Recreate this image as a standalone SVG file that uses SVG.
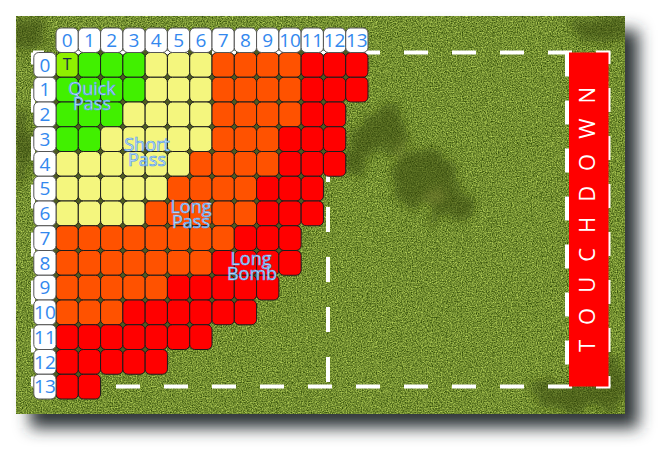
<svg xmlns="http://www.w3.org/2000/svg" xmlns:xlink="http://www.w3.org/1999/xlink" width="670" height="461" viewBox="0 0 670 461">
<style>
.g{fill:#41f000}.lg{fill:#8ff000}.y{fill:#f4f67e}.o{fill:#ff5200}.r{fill:#ff0000}
.n{font-family:"Open Sans","Noto Sans","DejaVu Sans",sans-serif;font-size:19px;fill:#3388ee;text-anchor:middle}
.lbl{font-family:"Open Sans","Noto Sans","DejaVu Sans",sans-serif;font-size:18px;fill:#d4eaff;stroke:#5a9de8;stroke-width:0.7px;text-anchor:middle}
.dash{stroke:#fff;stroke-width:4;fill:none}
.td{font-family:"Open Sans","Noto Sans","DejaVu Sans",sans-serif;font-size:22px;fill:#fff}
</style>
<defs>
<filter id="sh" x="-10%" y="-10%" width="130%" height="130%"><feGaussianBlur stdDeviation="8"/></filter>
<filter id="grass" filterUnits="userSpaceOnUse" x="16.5" y="16" width="608.5" height="398" color-interpolation-filters="sRGB">
<feTurbulence type="fractalNoise" baseFrequency="0.8" numOctaves="3" seed="5"/>
<feColorMatrix type="matrix" values="0.767 0 0 0 0.067 0.767 0 0 0 0.175 0.467 0 0 0 -0.043 0 0 0 0 1"/>
</filter>
<filter id="blot" filterUnits="userSpaceOnUse" x="0" y="0" width="670" height="461">
<feTurbulence type="fractalNoise" baseFrequency="0.045" numOctaves="3" seed="11" result="t"/>
<feDisplacementMap in="SourceGraphic" in2="t" scale="40" xChannelSelector="R" yChannelSelector="G" result="d"/>
<feGaussianBlur in="d" stdDeviation="5"/>
</filter>
<clipPath id="field"><rect x="16.5" y="16" width="608.5" height="398"/></clipPath>
<rect id="c" width="22.29" height="24.75" rx="5" stroke="#1c1c1c" stroke-width="1"/>
<rect id="hc" width="22.29" height="24.5" rx="5" fill="#fff" stroke="#555" stroke-width="1"/>
<rect id="hr" width="22.2" height="24.75" rx="5" fill="#fff" stroke="#555" stroke-width="1"/>
</defs>

<rect x="30" y="30" width="608.5" height="398" fill="#2e3538" filter="url(#sh)"/>
<g id="field-bg">
<rect x="16.5" y="16" width="608.5" height="398" fill="#6d8b2e" filter="url(#grass)"/>
<g clip-path="url(#field)">
<g filter="url(#blot)" fill="#34440e" opacity="0.55">
<ellipse cx="385" cy="130" rx="25" ry="20"/>
<ellipse cx="420" cy="178" rx="34" ry="28"/>
<ellipse cx="452" cy="205" rx="20" ry="17"/>
<ellipse cx="362" cy="150" rx="14" ry="25"/>
<ellipse cx="600" cy="28" rx="32" ry="14"/>
<ellipse cx="572" cy="398" rx="40" ry="14"/>
<ellipse cx="612" cy="382" rx="12" ry="28"/>
<ellipse cx="30" cy="34" rx="18" ry="17"/>
<ellipse cx="22" cy="150" rx="8" ry="40"/>
</g>
<g filter="url(#blot)" fill="#a3a448" opacity="0.35">
<ellipse cx="398" cy="150" rx="9" ry="8"/>
<ellipse cx="432" cy="192" rx="13" ry="11"/>
</g>
</g>
</g>

<g id="lines-under">
<line class="dash" x1="33" y1="52.5" x2="33" y2="386.5" stroke-dasharray="24 24" stroke-dashoffset="12"/>
<line class="dash" x1="328" y1="52.5" x2="328" y2="386.5" stroke-dasharray="25 25" stroke-dashoffset="45.5"/>
</g>

<polygon id="grid-backing" fill="#4e5b22" points="61,46 363,46 363,97 340.71,97 340.71,171.25 318.43,171.25 318.43,220.75 296.14,220.75 296.14,270.25 273.86,270.25 273.86,295 251.57,295 251.57,319.75 207,319.75 207,344.5 162.43,344.5 162.43,369.25 95.57,369.25 95.57,394 38.5,394 38.5,57.5 61,57.5"/>

<g id="connectors">
<line class="dash" x1="33" y1="52.5" x2="610.5" y2="52.5" stroke-dasharray="24 24" stroke-dashoffset="13"/>
<line class="dash" x1="33" y1="386.5" x2="610.5" y2="386.5" stroke-dasharray="24 24" stroke-dashoffset="13"/>
<line class="dash" x1="567" y1="52.5" x2="567" y2="386.5" stroke-dasharray="24 24"/>
<line class="dash" x1="608.5" y1="52.5" x2="608.5" y2="386.5" stroke-dasharray="24 24" stroke-dashoffset="12.5"/>
</g>

<g id="touchdown">
<rect x="569" y="52.5" width="39.5" height="334" fill="#ff0000"/>
<text class="td" transform="translate(595,352) rotate(-90)" x="0" y="0" textLength="265" lengthAdjust="spacing">TOUCHDOWN</text>
</g>

<g id="cells">
<g id="row0" transform="translate(0,52.5)">
<use href="#c" x="56" class="lg"/><use href="#c" x="78.29" class="g"/><use href="#c" x="100.57" class="g"/><use href="#c" x="122.86" class="g"/><use href="#c" x="145.14" class="y"/><use href="#c" x="167.43" class="y"/><use href="#c" x="189.71" class="y"/><use href="#c" x="212" class="o"/><use href="#c" x="234.29" class="o"/><use href="#c" x="256.57" class="o"/><use href="#c" x="278.86" class="o"/><use href="#c" x="301.14" class="r"/><use href="#c" x="323.43" class="r"/><use href="#c" x="345.71" class="r"/>
</g>
<g id="row1" transform="translate(0,77.25)">
<use href="#c" x="56" class="g"/><use href="#c" x="78.29" class="g"/><use href="#c" x="100.57" class="g"/><use href="#c" x="122.86" class="g"/><use href="#c" x="145.14" class="y"/><use href="#c" x="167.43" class="y"/><use href="#c" x="189.71" class="y"/><use href="#c" x="212" class="o"/><use href="#c" x="234.29" class="o"/><use href="#c" x="256.57" class="o"/><use href="#c" x="278.86" class="o"/><use href="#c" x="301.14" class="r"/><use href="#c" x="323.43" class="r"/><use href="#c" x="345.71" class="r"/>
</g>
<g id="row2" transform="translate(0,102)">
<use href="#c" x="56" class="g"/><use href="#c" x="78.29" class="g"/><use href="#c" x="100.57" class="g"/><use href="#c" x="122.86" class="y"/><use href="#c" x="145.14" class="y"/><use href="#c" x="167.43" class="y"/><use href="#c" x="189.71" class="y"/><use href="#c" x="212" class="o"/><use href="#c" x="234.29" class="o"/><use href="#c" x="256.57" class="o"/><use href="#c" x="278.86" class="o"/><use href="#c" x="301.14" class="r"/><use href="#c" x="323.43" class="r"/>
</g>
<g id="row3" transform="translate(0,126.75)">
<use href="#c" x="56" class="g"/><use href="#c" x="78.29" class="g"/><use href="#c" x="100.57" class="y"/><use href="#c" x="122.86" class="y"/><use href="#c" x="145.14" class="y"/><use href="#c" x="167.43" class="y"/><use href="#c" x="189.71" class="y"/><use href="#c" x="212" class="o"/><use href="#c" x="234.29" class="o"/><use href="#c" x="256.57" class="o"/><use href="#c" x="278.86" class="r"/><use href="#c" x="301.14" class="r"/><use href="#c" x="323.43" class="r"/>
</g>
<g id="row4" transform="translate(0,151.5)">
<use href="#c" x="56" class="y"/><use href="#c" x="78.29" class="y"/><use href="#c" x="100.57" class="y"/><use href="#c" x="122.86" class="y"/><use href="#c" x="145.14" class="y"/><use href="#c" x="167.43" class="y"/><use href="#c" x="189.71" class="o"/><use href="#c" x="212" class="o"/><use href="#c" x="234.29" class="o"/><use href="#c" x="256.57" class="o"/><use href="#c" x="278.86" class="r"/><use href="#c" x="301.14" class="r"/><use href="#c" x="323.43" class="r"/>
</g>
<g id="row5" transform="translate(0,176.25)">
<use href="#c" x="56" class="y"/><use href="#c" x="78.29" class="y"/><use href="#c" x="100.57" class="y"/><use href="#c" x="122.86" class="y"/><use href="#c" x="145.14" class="y"/><use href="#c" x="167.43" class="o"/><use href="#c" x="189.71" class="o"/><use href="#c" x="212" class="o"/><use href="#c" x="234.29" class="o"/><use href="#c" x="256.57" class="r"/><use href="#c" x="278.86" class="r"/><use href="#c" x="301.14" class="r"/>
</g>
<g id="row6" transform="translate(0,201)">
<use href="#c" x="56" class="y"/><use href="#c" x="78.29" class="y"/><use href="#c" x="100.57" class="y"/><use href="#c" x="122.86" class="y"/><use href="#c" x="145.14" class="o"/><use href="#c" x="167.43" class="o"/><use href="#c" x="189.71" class="o"/><use href="#c" x="212" class="o"/><use href="#c" x="234.29" class="o"/><use href="#c" x="256.57" class="r"/><use href="#c" x="278.86" class="r"/><use href="#c" x="301.14" class="r"/>
</g>
<g id="row7" transform="translate(0,225.75)">
<use href="#c" x="56" class="o"/><use href="#c" x="78.29" class="o"/><use href="#c" x="100.57" class="o"/><use href="#c" x="122.86" class="o"/><use href="#c" x="145.14" class="o"/><use href="#c" x="167.43" class="o"/><use href="#c" x="189.71" class="o"/><use href="#c" x="212" class="o"/><use href="#c" x="234.29" class="r"/><use href="#c" x="256.57" class="r"/><use href="#c" x="278.86" class="r"/>
</g>
<g id="row8" transform="translate(0,250.5)">
<use href="#c" x="56" class="o"/><use href="#c" x="78.29" class="o"/><use href="#c" x="100.57" class="o"/><use href="#c" x="122.86" class="o"/><use href="#c" x="145.14" class="o"/><use href="#c" x="167.43" class="o"/><use href="#c" x="189.71" class="o"/><use href="#c" x="212" class="r"/><use href="#c" x="234.29" class="r"/><use href="#c" x="256.57" class="r"/><use href="#c" x="278.86" class="r"/>
</g>
<g id="row9" transform="translate(0,275.25)">
<use href="#c" x="56" class="o"/><use href="#c" x="78.29" class="o"/><use href="#c" x="100.57" class="o"/><use href="#c" x="122.86" class="o"/><use href="#c" x="145.14" class="o"/><use href="#c" x="167.43" class="r"/><use href="#c" x="189.71" class="r"/><use href="#c" x="212" class="r"/><use href="#c" x="234.29" class="r"/><use href="#c" x="256.57" class="r"/>
</g>
<g id="row10" transform="translate(0,300)">
<use href="#c" x="56" class="o"/><use href="#c" x="78.29" class="o"/><use href="#c" x="100.57" class="o"/><use href="#c" x="122.86" class="r"/><use href="#c" x="145.14" class="r"/><use href="#c" x="167.43" class="r"/><use href="#c" x="189.71" class="r"/><use href="#c" x="212" class="r"/><use href="#c" x="234.29" class="r"/>
</g>
<g id="row11" transform="translate(0,324.75)">
<use href="#c" x="56" class="r"/><use href="#c" x="78.29" class="r"/><use href="#c" x="100.57" class="r"/><use href="#c" x="122.86" class="r"/><use href="#c" x="145.14" class="r"/><use href="#c" x="167.43" class="r"/><use href="#c" x="189.71" class="r"/>
</g>
<g id="row12" transform="translate(0,349.5)">
<use href="#c" x="56" class="r"/><use href="#c" x="78.29" class="r"/><use href="#c" x="100.57" class="r"/><use href="#c" x="122.86" class="r"/><use href="#c" x="145.14" class="r"/>
</g>
<g id="row13" transform="translate(0,374.25)">
<use href="#c" x="56" class="r"/><use href="#c" x="78.29" class="r"/>
</g>
<text x="67.14" y="69.5" font-family="'Open Sans','Noto Sans',sans-serif" font-size="16" fill="#1b2a48" text-anchor="middle">T</text>
</g>

<g id="col-headers">
<use href="#hc" x="56" y="28"/><use href="#hc" x="78.29" y="28"/><use href="#hc" x="100.57" y="28"/><use href="#hc" x="122.86" y="28"/><use href="#hc" x="145.14" y="28"/><use href="#hc" x="167.43" y="28"/><use href="#hc" x="189.71" y="28"/><use href="#hc" x="212" y="28"/><use href="#hc" x="234.29" y="28"/><use href="#hc" x="256.57" y="28"/><use href="#hc" x="278.86" y="28"/><use href="#hc" x="301.14" y="28"/><use href="#hc" x="323.43" y="28"/><use href="#hc" x="345.71" y="28"/>
<text class="n" x="67.14" y="46.6">0</text><text class="n" x="89.43" y="46.6">1</text><text class="n" x="111.71" y="46.6">2</text><text class="n" x="134" y="46.6">3</text><text class="n" x="156.29" y="46.6">4</text><text class="n" x="178.57" y="46.6">5</text><text class="n" x="200.86" y="46.6">6</text><text class="n" x="223.14" y="46.6">7</text><text class="n" x="245.43" y="46.6">8</text><text class="n" x="267.71" y="46.6">9</text><text class="n" x="290" y="46.6">10</text><text class="n" x="312.29" y="46.6">11</text><text class="n" x="334.57" y="46.6">12</text><text class="n" x="356.86" y="46.6">13</text>
</g>

<g id="row-headers">
<use href="#hr" x="33.8" y="52.5"/><use href="#hr" x="33.8" y="77.25"/><use href="#hr" x="33.8" y="102"/><use href="#hr" x="33.8" y="126.75"/><use href="#hr" x="33.8" y="151.5"/><use href="#hr" x="33.8" y="176.25"/><use href="#hr" x="33.8" y="201"/><use href="#hr" x="33.8" y="225.75"/><use href="#hr" x="33.8" y="250.5"/><use href="#hr" x="33.8" y="275.25"/><use href="#hr" x="33.8" y="300"/><use href="#hr" x="33.8" y="324.75"/><use href="#hr" x="33.8" y="349.5"/><use href="#hr" x="33.8" y="374.25"/>
<text class="n" x="44.9" y="71.6">0</text><text class="n" x="44.9" y="96.35">1</text><text class="n" x="44.9" y="121.1">2</text><text class="n" x="44.9" y="145.85">3</text><text class="n" x="44.9" y="170.6">4</text><text class="n" x="44.9" y="195.35">5</text><text class="n" x="44.9" y="220.1">6</text><text class="n" x="44.9" y="244.85">7</text><text class="n" x="44.9" y="269.6">8</text><text class="n" x="44.9" y="294.35">9</text><text class="n" x="44.9" y="319.1">10</text><text class="n" x="44.9" y="343.85">11</text><text class="n" x="44.9" y="368.6">12</text><text class="n" x="44.9" y="393.35">13</text>
</g>

<g id="labels">
<g id="quick-pass"><text class="lbl" x="92" y="94.5">Quick</text><text class="lbl" x="92" y="109.5">Pass</text></g>
<g id="short-pass"><text class="lbl" x="147" y="151">Short</text><text class="lbl" x="147" y="165.5">Pass</text></g>
<g id="long-pass"><text class="lbl" x="191" y="213">Long</text><text class="lbl" x="191" y="227.5">Pass</text></g>
<g id="long-bomb"><text class="lbl" x="251" y="265">Long</text><text class="lbl" x="252" y="279.5">Bomb</text></g>
</g>
</svg>
